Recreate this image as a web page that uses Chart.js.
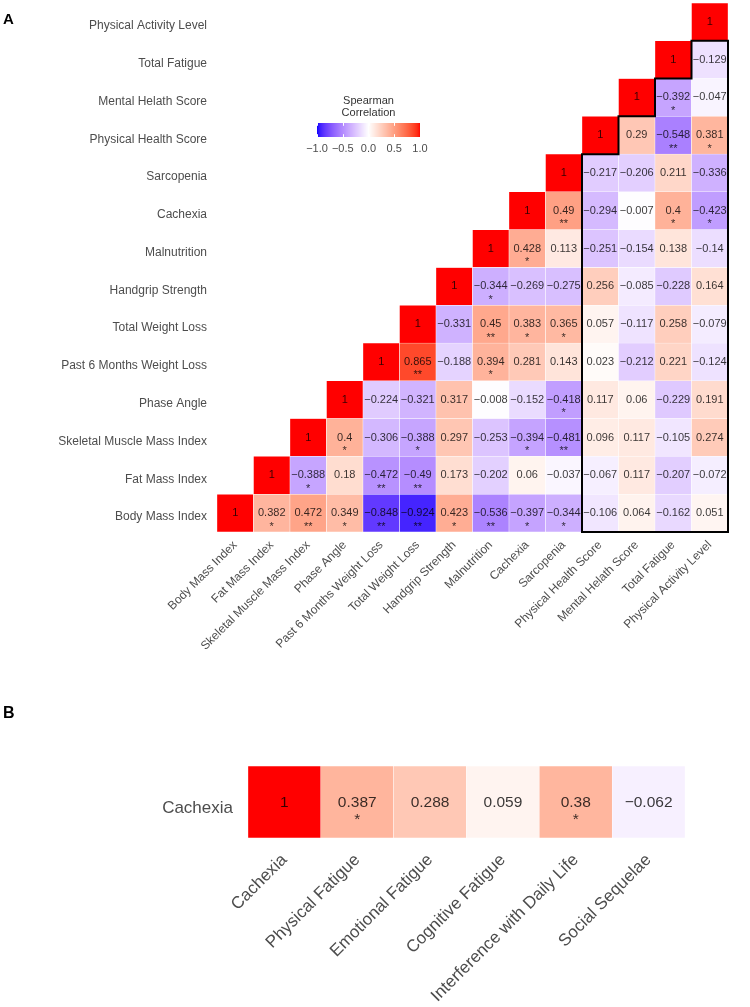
<!DOCTYPE html>
<html>
<head>
<meta charset="utf-8">
<script src="https://cdn.jsdelivr.net/npm/chart.js@4.4.1/dist/chart.umd.min.js"></script>
<style>
  body { margin: 0; background: #fff; }
  #page { position: relative; width: 750px; height: 1007px; font-family: 'Liberation Sans', Arial, sans-serif; }
  #page canvas { position: absolute; left: 0; }
  .tag { position: absolute; left: 3px; font-weight: bold; line-height: 1; color: #000; }
</style>
</head>
<body>
<div id="page">
  <canvas id="corr-matrix" width="750" height="690" style="top:0"></canvas>
  <canvas id="cachexia-row" width="750" height="317" style="top:690px"></canvas>
  <div class="tag" style="top:11px;font-size:15px">A</div>
  <div class="tag" style="top:705px;font-size:16px">B</div>
</div>
<script>
const variables = ['Body Mass Index', 'Fat Mass Index', 'Skeletal Muscle Mass Index', 'Phase Angle',
  'Past 6 Months Weight Loss', 'Total Weight Loss', 'Handgrip Strength', 'Malnutrition', 'Cachexia',
  'Sarcopenia', 'Physical Health Score', 'Mental Helath Score', 'Total Fatigue', 'Physical Activity Level']

// one array per row, starting on the diagonal; stars: 1 = *, 2 = **
const bodyMassIndex = [1, 0.382, 0.472, 0.349, -0.848, -0.924, 0.423, -0.536, -0.397, -0.344, -0.106, 0.064, -0.162, 0.051]
const bodyMassIndexSig = [0, 1, 2, 1, 2, 2, 1, 2, 1, 1, 0, 0, 0, 0]
const fatMassIndex = [1, -0.388, 0.18, -0.472, -0.49, 0.173, -0.202, 0.06, -0.037, -0.067, 0.117, -0.207, -0.072]
const fatMassIndexSig = [0, 1, 0, 2, 2, 0, 0, 0, 0, 0, 0, 0, 0]
const skeletalMuscle = [1, 0.4, -0.306, -0.388, 0.297, -0.253, -0.394, -0.481, 0.096, 0.117, -0.105, 0.274]
const skeletalMuscleSig = [0, 1, 0, 1, 0, 0, 1, 2, 0, 0, 0, 0]
const phaseAngle = [1, -0.224, -0.321, 0.317, -0.008, -0.152, -0.418, 0.117, 0.06, -0.229, 0.191]
const phaseAngleSig = [0, 0, 0, 0, 0, 0, 1, 0, 0, 0, 0]
const weightLoss6m = [1, 0.865, -0.188, 0.394, 0.281, 0.143, 0.023, -0.212, 0.221, -0.124]
const weightLoss6mSig = [0, 2, 0, 1, 0, 0, 0, 0, 0, 0]
const totalWeightLoss = [1, -0.331, 0.45, 0.383, 0.365, 0.057, -0.117, 0.258, -0.079]
const totalWeightLossSig = [0, 0, 2, 1, 1, 0, 0, 0, 0]
const handgrip = [1, -0.344, -0.269, -0.275, 0.256, -0.085, -0.228, 0.164]
const handgripSig = [0, 1, 0, 0, 0, 0, 0, 0]
const malnutrition = [1, 0.428, 0.113, -0.251, -0.154, 0.138, -0.14]
const malnutritionSig = [0, 1, 0, 0, 0, 0, 0]
const cachexia = [1, 0.49, -0.294, -0.007, 0.4, -0.423]
const cachexiaSig = [0, 2, 0, 0, 1, 1]
const sarcopenia = [1, -0.217, -0.206, 0.211, -0.336]
const sarcopeniaSig = [0, 0, 0, 0, 0]
const physicalHealth = [1, 0.29, -0.548, 0.381]
const physicalHealthSig = [0, 0, 2, 1]
const mentalHealth = [1, -0.392, -0.047]
const mentalHealthSig = [0, 1, 0]
const totalFatigue = [1, -0.129]
const totalFatigueSig = [0, 0]
const activityLevel = [1]
const activityLevelSig = [0]

const legendTicks = [-1, -0.5, 0, 0.5, 1]

const fatigueDomains = ['Cachexia', 'Physical Fatigue', 'Emotional Fatigue', 'Cognitive Fatigue',
  'Interference with Daily Life', 'Social Sequelae']
const cachexiaFatigue = [1, 0.387, 0.288, 0.059, 0.38, -0.062]
const cachexiaFatigueSig = [0, 1, 0, 0, 1, 0]

const rows = [bodyMassIndex, fatMassIndex, skeletalMuscle, phaseAngle, weightLoss6m, totalWeightLoss,
  handgrip, malnutrition, cachexia, sarcopenia, physicalHealth, mentalHealth, totalFatigue, activityLevel]
const rowStars = [bodyMassIndexSig, fatMassIndexSig, skeletalMuscleSig, phaseAngleSig, weightLoss6mSig,
  totalWeightLossSig, handgripSig, malnutritionSig, cachexiaSig, sarcopeniaSig, physicalHealthSig,
  mentalHealthSig, totalFatigueSig, activityLevelSig]

const FONT = "'Liberation Sans', Arial, sans-serif"
Chart.defaults.font.family = FONT
Chart.defaults.color = '#4d4d4d'

// blue - white - red, interpolated in Lab like ggplot's gradient2
function toLin(c) { c /= 255; return c <= 0.04045 ? c / 12.92 : Math.pow((c + 0.055) / 1.055, 2.4) }
function fromLin(c) { const v = c <= 0.0031308 ? 12.92 * c : 1.055 * Math.pow(c, 1 / 2.4) - 0.055; return Math.round(Math.min(1, Math.max(0, v)) * 255) }
function rgbToLab([r, g, b]) {
  const R = toLin(r), G = toLin(g), B = toLin(b)
  const X = (0.4124 * R + 0.3576 * G + 0.1805 * B) / 0.95047
  const Y = 0.2126 * R + 0.7152 * G + 0.0722 * B
  const Z = (0.0193 * R + 0.1192 * G + 0.9505 * B) / 1.08883
  const f = t => t > 0.008856 ? Math.cbrt(t) : 7.787 * t + 16 / 116
  return [116 * f(Y) - 16, 500 * (f(X) - f(Y)), 200 * (f(Y) - f(Z))]
}
function labToRgb([L, a, b]) {
  const fy = (L + 16) / 116, fx = fy + a / 500, fz = fy - b / 200
  const inv = t => t * t * t > 0.008856 ? t * t * t : (t - 16 / 116) / 7.787
  const X = inv(fx) * 0.95047, Y = inv(fy), Z = inv(fz) * 1.08883
  return [
    fromLin(3.2406 * X - 1.5372 * Y - 0.4986 * Z),
    fromLin(-0.9689 * X + 1.8758 * Y + 0.0415 * Z),
    fromLin(0.0557 * X - 0.2040 * Y + 1.0570 * Z)
  ]
}
const LAB_LOW = rgbToLab([0, 0, 255])
const LAB_MID = rgbToLab([255, 255, 255])
const LAB_HIGH = rgbToLab([255, 0, 0])
function fillFor(v) {
  if (v === undefined || isNaN(v)) return 'rgba(0,0,0,0)'
  const end = v >= 0 ? LAB_HIGH : LAB_LOW
  const t = Math.min(1, Math.abs(v))
  const rgb = labToRgb(LAB_MID.map((m, k) => m + (end[k] - m) * t))
  return `rgb(${rgb[0]},${rgb[1]},${rgb[2]})`
}
const fmt = v => String(v).replace('-', '\u2212')

const cellLabels = {
  id: 'cellLabels',
  afterDatasetsDraw(chart, args, opts) {
    const { ctx } = chart
    ctx.save()
    ctx.textAlign = 'center'
    ctx.textBaseline = 'middle'
    ctx.font = `${opts.size}px ${FONT}`
    ctx.fillStyle = 'rgba(0,0,0,0.78)'
    chart.data.datasets.forEach((ds, d) => {
      chart.getDatasetMeta(d).data.forEach((bar, j) => {
        const k = j - ds.offset
        if (k < 0) return
        const cy = (bar.y + bar.base) / 2
        ctx.fillText(fmt(ds.values[k]), bar.x, cy + opts.shift)
        if (ds.stars[k]) ctx.fillText('*'.repeat(ds.stars[k]), bar.x, cy + opts.starGap)
      })
    })
    ctx.restore()
  }
}

const blockOutline = {
  id: 'blockOutline',
  afterDatasetsDraw(chart, args, opts) {
    if (!opts.first) return
    const { ctx } = chart
    const { x, y } = chart.scales
    const first = opts.first, last = variables.length - 1
    ctx.save()
    ctx.beginPath()
    ctx.moveTo(x.getPixelForValue(first - 0.5), y.getPixelForValue(-0.5))
    for (let c = first; c <= last; c++) {
      ctx.lineTo(x.getPixelForValue(c - 0.5), y.getPixelForValue(c - 0.5))
      ctx.lineTo(x.getPixelForValue(c + 0.5), y.getPixelForValue(c - 0.5))
    }
    ctx.lineTo(x.getPixelForValue(last + 0.5), y.getPixelForValue(-0.5))
    ctx.closePath()
    ctx.lineWidth = 2
    ctx.strokeStyle = '#000'
    ctx.stroke()
    ctx.restore()
  }
}

const colorbar = {
  id: 'colorbar',
  afterDraw(chart, args, o) {
    if (!o.width) return
    const { ctx } = chart
    ctx.save()
    for (let p = 0; p < o.width; p++) {
      ctx.fillStyle = fillFor(-1 + 2 * (p + 0.5) / o.width)
      ctx.fillRect(o.left + p, o.top, 1, o.height)
    }
    ctx.strokeStyle = '#fff'
    ctx.lineWidth = 1
    legendTicks.forEach(t => {
      const px = Math.round(o.left + (t + 1) / 2 * o.width) + 0.5
      ctx.beginPath()
      ctx.moveTo(px, o.top); ctx.lineTo(px, o.top + o.height / 5)
      ctx.moveTo(px, o.top + o.height); ctx.lineTo(px, o.top + o.height * 4 / 5)
      ctx.stroke()
    })
    ctx.textAlign = 'center'
    ctx.textBaseline = 'middle'
    ctx.font = `11px ${FONT}`
    ctx.fillStyle = '#333'
    const cx = o.left + o.width / 2
    ctx.fillText('Spearman', cx, o.top - 22)
    ctx.fillText('Correlation', cx, o.top - 10)
    ctx.fillStyle = '#4d4d4d'
    legendTicks.forEach(t => {
      ctx.fillText(fmt(t.toFixed(1)), o.left + (t + 1) / 2 * o.width, o.top + o.height + 12)
    })
    ctx.restore()
  }
}

function heatmap(canvasId, cfg) {
  return new Chart(document.getElementById(canvasId), {
    type: 'bar',
    data: { labels: cfg.columns, datasets: cfg.datasets },
    options: {
      responsive: false,
      animation: false,
      events: [],
      layout: { padding: cfg.padding },
      plugins: {
        legend: { display: false },
        tooltip: { enabled: false },
        cellLabels: cfg.text,
        blockOutline: { first: cfg.outlineFrom },
        colorbar: cfg.colorbar || {}
      },
      scales: {
        x: {
          type: 'category',
          grid: { display: false, drawTicks: false },
          border: { display: false },
          ticks: { autoSkip: false, minRotation: 45, maxRotation: 45, padding: cfg.xPad, font: { size: cfg.labelSize } },
          afterFit: s => { s.height = cfg.height - cfg.bottom; s.paddingLeft = 0; s.paddingRight = 0 }
        },
        y: {
          type: 'linear',
          min: -0.5,
          max: cfg.rows.length - 0.5,
          grid: { display: false, drawTicks: false },
          border: { display: false },
          afterBuildTicks: s => { s.ticks = cfg.rows.map((_, i) => ({ value: i })) },
          ticks: { autoSkip: false, padding: cfg.yPad, labelOffset: cfg.yShift, font: { size: cfg.labelSize },
            callback: v => cfg.rows[v] },
          afterFit: s => { s.width = cfg.left; s.paddingTop = 0; s.paddingBottom = 0 }
        }
      }
    },
    plugins: [cellLabels, blockOutline, colorbar]
  })
}

const cellStyle = { borderColor: '#fff', borderWidth: 0.5, borderSkipped: false, barPercentage: 1, categoryPercentage: 1, grouped: false }

heatmap('corr-matrix', {
  columns: variables,
  rows: variables,
  datasets: rows.map((vals, i) => ({
    ...cellStyle,
    data: variables.map((_, j) => j >= i ? [i - 0.5, i + 0.5] : null),
    backgroundColor: ctx => fillFor(vals[ctx.dataIndex - i]),
    values: vals,
    stars: rowStars[i],
    offset: i
  })),
  height: 690, bottom: 532, left: 217,
  padding: { top: 3, right: 22 },
  labelSize: 12, xPad: 6, yPad: 10, yShift: 4,
  text: { size: 11, shift: 0, starGap: 13.5 },
  outlineFrom: 10,
  colorbar: { left: 317, top: 123, width: 103, height: 14 }
})

heatmap('cachexia-row', {
  columns: fatigueDomains,
  rows: ['Cachexia'],
  datasets: [{
    ...cellStyle,
    data: fatigueDomains.map(() => [-0.5, 0.5]),
    backgroundColor: ctx => fillFor(cachexiaFatigue[ctx.dataIndex]),
    values: cachexiaFatigue,
    stars: cachexiaFatigueSig,
    offset: 0
  }],
  height: 317, bottom: 148, left: 248,
  padding: { top: 76, right: 65 },
  labelSize: 17, xPad: 12, yPad: 15, yShift: 6,
  text: { size: 15.5, shift: 1, starGap: 18 },
  outlineFrom: 0
})
</script>
</body>
</html>
